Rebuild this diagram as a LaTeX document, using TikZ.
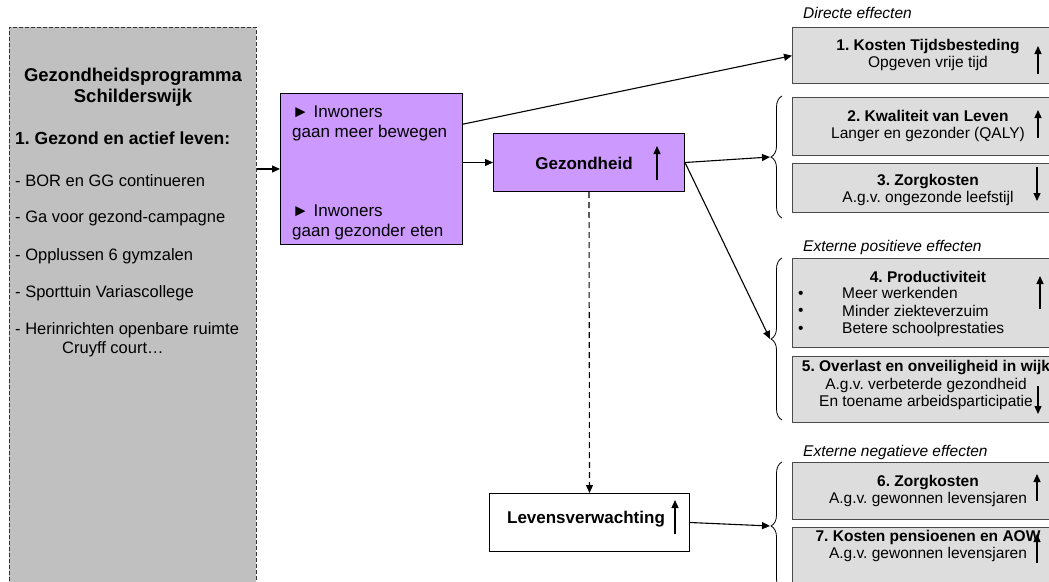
\documentclass[tikz,border=0pt]{standalone}
\usepackage{fontspec}
\setmainfont{Liberation Sans}
\frenchspacing
\usetikzlibrary{arrows.meta,decorations.pathreplacing,calc}
\definecolor{leftgray}{HTML}{C0C0C0}
\definecolor{effgray}{HTML}{DDDDDD}
\definecolor{effborder}{HTML}{4A4A4A}
\definecolor{lilac}{HTML}{CC99FF}
\tikzset{
  tip/.tip={Triangle[length=8pt,width=7pt]},
  effbox/.style={draw=effborder,line width=1.3pt,fill=effgray,anchor=north west,inner sep=0pt,
    minimum width=272pt,align=center,font=\fontsize{15.5}{17.5}\selectfont},
  lilacbox/.style={draw=black,line width=1pt,fill=lilac,anchor=north west,inner sep=0pt},
  conn/.style={line width=1.1pt,-tip},
  updown/.style={line width=1.3pt,-tip},
  grouplabel/.style={anchor=west,font=\fontsize{15.5}{17.5}\selectfont\itshape,inner sep=0pt},
  lefttxt/.style={anchor=west,inner sep=0pt,font=\fontsize{16.5}{19}\selectfont},
  brc/.style={decorate,decoration={brace,amplitude=11pt},line width=0.8pt},
}
\begin{document}
\frenchspacing
\begin{tikzpicture}[x=1pt,y=-1pt]
\useasboundingbox (0,0) rectangle (1049,581);
% left program box
\node[draw=black!80,dashed,dash pattern=on 4pt off 2pt,line width=0.8pt,fill=leftgray,anchor=north west,
  minimum width=247pt,minimum height=570pt,inner sep=0pt] (left) at (9,27) {};
\node[anchor=center,align=center,inner sep=0pt,font=\fontsize{18.5}{21}\selectfont\bfseries] (title) at (133,87) {Gezondheidsprogramma\\Schilderswijk};
\node[lefttxt,font=\fontsize{17.5}{20}\selectfont\bfseries] (h1) at (15,138) {1. Gezond en actief leven:};
\node[lefttxt] (i1) at (15,181) {- BOR en GG continueren};
\node[lefttxt] (i2) at (15,218) {- Ga voor gezond-campagne};
\node[lefttxt] (i3) at (15,256) {- Opplussen 6 gymzalen};
\node[lefttxt] (i4) at (15,293) {- Sporttuin Variascollege};
\node[lefttxt] (i5) at (15,330) {- Herinrichten openbare ruimte};
\node[lefttxt] (i6) at (62,349) {Cruyff court…};
% purple boxes
\node[lilacbox,minimum width=182pt,minimum height=151pt] (p1) at (280,93) {};
\node[anchor=west,align=left,inner sep=0pt,font=\fontsize{17}{20}\selectfont] (p1a) at (292,123) {► Inwoners\\gaan meer bewegen};
\node[anchor=west,align=left,inner sep=0pt,font=\fontsize{17}{20}\selectfont] (p1b) at (292,222) {► Inwoners\\gaan gezonder eten};
\node[lilacbox,minimum width=191pt,minimum height=58pt] (g) at (493,133) {};
\node[inner sep=0pt,font=\fontsize{17}{20}\selectfont\bfseries] (gt) at (584,163) {Gezondheid};
\node[draw=black,line width=1pt,fill=white,anchor=north west,inner sep=0pt,minimum width=200pt,minimum height=58pt] (l) at (489,493) {};
\node[inner sep=0pt,font=\fontsize{17}{20}\selectfont\bfseries] (lt) at (586,519) {Levensverwachting};
\draw[updown] (657,180) -- (657,146);
\draw[updown] (675,534) -- (675,500);
% group labels
\node[grouplabel] (lab1) at (803,13) {Directe effecten};
\node[grouplabel] (lab2) at (803,247) {Externe positieve effecten};
\node[grouplabel] (lab3) at (803,452) {Externe negatieve effecten};
% effect boxes
\node[effbox,minimum height=56pt] (e1) at (792,27) {};
\node[align=center,inner sep=0pt,font=\fontsize{15.5}{17.5}\selectfont] (e1t) at (928,55) {\textbf{1. Kosten Tijdsbesteding}\\Opgeven vrije tijd};
\node[effbox,minimum height=58pt] (e2) at (792,97) {};
\node[align=center,inner sep=0pt,font=\fontsize{15.5}{17.5}\selectfont] (e2t) at (928,126) {\textbf{2. Kwaliteit van Leven}\\Langer en gezonder (QALY)};
\node[effbox,minimum height=49pt] (e3) at (792,163) {};
\node[align=center,inner sep=0pt,font=\fontsize{15.5}{17.5}\selectfont] (e3t) at (928,190) {\textbf{3. Zorgkosten}\\A.g.v. ongezonde leefstijl};
\node[effbox,minimum height=89pt] (e4) at (792,258) {};
\node[inner sep=0pt,font=\fontsize{15.5}{17.5}\selectfont\bfseries] (e4t) at (928,277) {4. Productiviteit};
\node[anchor=west,align=left,inner sep=0pt,font=\fontsize{15.5}{17.5}\selectfont] (e4b) at (842,312) {Meer werkenden\\Minder ziekteverzuim\\Betere schoolprestaties};
\node[anchor=west,align=left,inner sep=0pt,font=\fontsize{15.5}{17.5}\selectfont] (e4d) at (798,312) {•\\•\\•};
\node[effbox,minimum height=66pt] (e5) at (792,356) {};
\node[align=center,inner sep=0pt,font=\fontsize{15.5}{17.5}\selectfont] (e5t) at (926,385) {\textbf{5. Overlast en onveiligheid in wijk}\\A.g.v. verbeterde gezondheid\\En toename arbeidsparticipatie};
\node[effbox,minimum height=57pt] (e6) at (792,462) {};
\node[align=center,inner sep=0pt,font=\fontsize{15.5}{17.5}\selectfont] (e6t) at (928,491) {\textbf{6. Zorgkosten}\\A.g.v. gewonnen levensjaren};
\node[effbox,minimum height=60pt] (e7) at (792,527) {};
\node[align=center,inner sep=0pt,font=\fontsize{15.5}{17.5}\selectfont] (e7t) at (928,546) {\textbf{7. Kosten pensioenen en AOW}\\A.g.v. gewonnen levensjaren};
% up/down arrows in effect boxes
\draw[updown] (1038,74) -- (1038,46);
\draw[updown] (1038,138) -- (1038,110);
\draw[updown] (1037,167) -- (1037,201);
\draw[updown] (1040,309) -- (1040,276);
\draw[updown] (1038,386) -- (1038,414);
\draw[updown] (1037,501) -- (1037,474);
\draw[updown] (1037,563) -- (1037,534);
% braces
\draw[brc] (782,218) -- (782,96);
\draw[brc] (782,420) -- (782,258);
\draw[brc] (782,590) -- (782,462);
\coordinate (b1) at (770,157);
\coordinate (b2) at (770,339);
\coordinate (b3) at (770,526);
% connectors
\draw[conn] (left.east |- p1.west) -- (p1.west);
\draw[conn] (p1.east |- g.west) -- (g.west);
\draw[conn] ($(p1.north east)!0.205!(p1.south east)$) -- (e1.west);
\draw[conn] (g.east) -- (b1);
\draw[conn] (g.east) -- (b2);
\draw[conn,dashed,dash pattern=on 6pt off 4pt] (g.south) -- (l.north);
\draw[conn] (l.east) -- (b3);
\end{tikzpicture}
\end{document}
